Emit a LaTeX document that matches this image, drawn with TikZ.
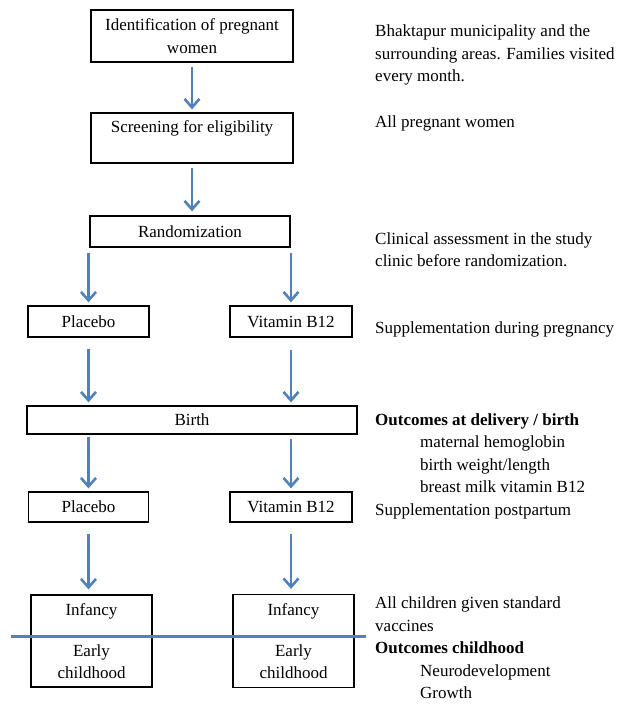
\documentclass[tikz,border=0pt]{standalone}
\usepackage{fontspec}
\setmainfont{Liberation Serif}
\usepackage{tikz}
\usetikzlibrary{arrows.meta}
\definecolor{arrowblue}{RGB}{79,129,189}
\tikzstyle{box}=[draw,%
                 rectangle,%
                 line width   = 1.3pt,%
                 inner sep    = 0pt,%
                 align        = center]
\tikzstyle{note}=[anchor=west, inner sep=0pt, align=left]
\tikzstyle{flow}=[draw=arrowblue, line width=2.6pt, shorten <=4pt, shorten >=3pt,%
                  >={Straight Barb[length=8.5pt,width=15pt]}]

\begin{document}
\begin{tikzpicture}[x=1pt,y=-1pt,every node/.style={font=\fontsize{17}{22.5}\selectfont}]
            \useasboundingbox (0,0) rectangle (629,708);
            \node[box,minimum width=202,minimum height=52] (ident) at (192,36) {Identification of pregnant\\women};
            \node[box,minimum width=202,minimum height=50] (screen) at (192,138) {Screening for eligibility\\~};
            \node[box,minimum width=200,minimum height=31] (rand) at (190,231.5) {Randomization};
            \node[box,minimum width=121,minimum height=31] (plac1) at (88.5,321.5) {Placebo};
            \node[box,minimum width=122,minimum height=31] (vit1) at (291,321.5) {Vitamin B12};
            \node[box,minimum width=330,minimum height=28] (birth) at (192,420) {Birth};
            \node[box,minimum width=120,minimum height=30] (plac2) at (88.5,507) {Placebo};
            \node[box,minimum width=122,minimum height=30] (vit2) at (291,507) {Vitamin B12};
            \node[box,minimum width=121,minimum height=92] (inf1) at (91.5,641) {Infancy\\[18.5pt]Early\\childhood};
            \node[box,minimum width=121,minimum height=93] (inf2) at (293.5,641) {Infancy\\[18.5pt]Early\\childhood};
            \coordinate (splitL) at (11,636);
            \coordinate (splitR) at (366,636);
            \draw [arrowblue,line width=3pt] (splitL) -- (splitR);
            \draw [flow,->] (ident.south) -- (screen.north);
            \draw [flow,->,shorten >=4pt] (screen.south) -- (screen.south |- rand.north);
            \draw [flow,->,shorten <=5pt] (plac1.north |- rand.south) -- (plac1.north);
            \draw [flow,->,shorten <=5pt] (vit1.north |- rand.south) -- (vit1.north);
            \draw [flow,->,shorten <=11pt] (plac1.south) -- (plac1.south |- birth.north);
            \draw [flow,->,shorten <=12pt] (vit1.south) -- (vit1.south |- birth.north);
            \draw [flow,->,shorten <=2pt] (birth.south -| plac2.north) -- (plac2.north);
            \draw [flow,->] (birth.south -| vit2.north) -- (vit2.north);
            \draw [flow,->,shorten <=11pt,shorten >=5pt] (plac2.south) -- (plac2.south |- inf1.north);
            \draw [flow,->,shorten <=11pt,shorten >=5pt] (vit2.south) -- (vit2.south |- inf2.north);
            \node[note] (areaNote) at (375,55) {Bhaktapur municipality and the\\surrounding areas. Families visited\\every month.};
            \node[note] (screenNote) at (375,123) {All pregnant women};
            \node[note] (clinicNote) at (375,249.5) {Clinical assessment in the study\\clinic before randomization.};
            \node[note] (pregNote) at (375,329) {Supplementation during pregnancy};
            \node[note] (birthNote) at (375,466) {\textbf{Outcomes at delivery / birth}\\\hspace*{45pt}maternal hemoglobin\\\hspace*{45pt}birth weight/length\\\hspace*{45pt}breast milk vitamin B12\\Supplementation postpartum};
            \node[note] (childNote) at (375,648) {All children given standard\\vaccines\\\textbf{Outcomes childhood}\\\hspace*{45pt}Neurodevelopment\\\hspace*{45pt}Growth};
\end{tikzpicture}
\end{document}
